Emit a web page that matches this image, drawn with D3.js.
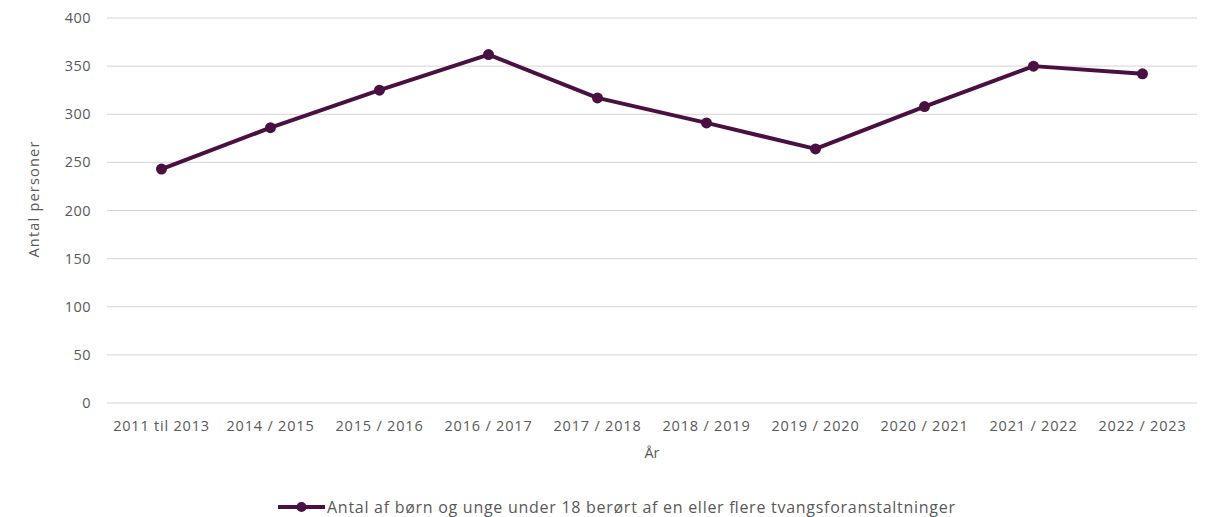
<!DOCTYPE html>
<html>
<head>
<meta charset="utf-8">
<script src="https://cdn.jsdelivr.net/npm/d3@7"></script>
<style>
  body { margin: 0; background: #fff; }
  text { font-family: "Open Sans", Lato, sans-serif; fill: #595959; }
</style>
</head>
<body>
<div id="chart"></div>
<script>
// data
var years = ['2011 til 2013', '2014 / 2015', '2015 / 2016', '2016 / 2017', '2017 / 2018',
             '2018 / 2019', '2019 / 2020', '2020 / 2021', '2021 / 2022', '2022 / 2023']
var counts = [243, 286, 325, 362, 317, 291, 264, 308, 350, 342]
var yTicks = [0, 50, 100, 150, 200, 250, 300, 350, 400]
var seriesName = 'Antal af børn og unge under 18 berørt af en eller flere tvangsforanstaltninger'

const width = 1215, height = 517
const m = {left: 107, right: 18, top: 18, bottom: 114}
const color = '#4a1042'

var svg = d3.select('#chart').append('svg')
    .attr('width', width)
    .attr('height', height)

var x = d3.scaleBand().domain(years).range([m.left, width - m.right])
var y = d3.scaleLinear().domain([0, 400]).range([height - m.bottom, m.top])

// gridlines
svg.append('g').selectAll('line').data(yTicks).enter().append('line')
    .attr('x1', m.left).attr('x2', width - m.right)
    .attr('y1', d => y(d)).attr('y2', d => y(d))
    .attr('stroke', '#d4d4d4').attr('stroke-width', 1)

// y labels
svg.append('g').selectAll('text').data(yTicks).enter().append('text')
    .attr('x', m.left - 16).attr('y', d => y(d))
    .attr('dy', '0.35em').attr('text-anchor', 'end')
    .style('font-size', '14.5px')
    .style('letter-spacing', '0.5px')
    .text(d => d)

// x labels
svg.append('g').selectAll('text').data(years).enter().append('text')
    .attr('x', d => x(d) + x.bandwidth() / 2).attr('y', height - m.bottom + 28)
    .attr('text-anchor', 'middle')
    .style('font-size', '14.5px')
    .style('letter-spacing', '0.8px')
    .text(d => d)

// axis titles
svg.append('text')
    .attr('transform', 'translate(39,199) rotate(-90)')
    .attr('text-anchor', 'middle')
    .style('font-size', '14.5px')
    .style('letter-spacing', '1.2px')
    .text('Antal personer')

svg.append('text')
    .attr('x', (m.left + width - m.right) / 2).attr('y', height - m.bottom + 55)
    .attr('text-anchor', 'middle')
    .style('font-size', '14.5px')
    .text('År')

// line
var line = d3.line()
    .x((d, i) => x(years[i]) + x.bandwidth() / 2)
    .y(d => y(d))

svg.append('path')
    .datum(counts)
    .attr('d', line)
    .attr('fill', 'none')
    .attr('stroke', color)
    .attr('stroke-width', 4)
    .attr('stroke-linejoin', 'round')

svg.append('g').selectAll('circle').data(counts).enter().append('circle')
    .attr('cx', (d, i) => x(years[i]) + x.bandwidth() / 2)
    .attr('cy', d => y(d))
    .attr('r', 5.5)
    .attr('fill', color)

// legend
var lg = svg.append('g').attr('transform', 'translate(278,507)')
lg.append('line')
    .attr('x1', 0).attr('x2', 47).attr('y1', 0).attr('y2', 0)
    .attr('stroke', color).attr('stroke-width', 4)
lg.append('circle').attr('cx', 23.5).attr('cy', 0).attr('r', 5).attr('fill', color)
lg.append('text')
    .attr('x', 49).attr('y', 0).attr('dy', '0.35em')
    .style('font-size', '16px')
    .attr('textLength', 628)
    .attr('lengthAdjust', 'spacing')
    .text(seriesName)
</script>
</body>
</html>
